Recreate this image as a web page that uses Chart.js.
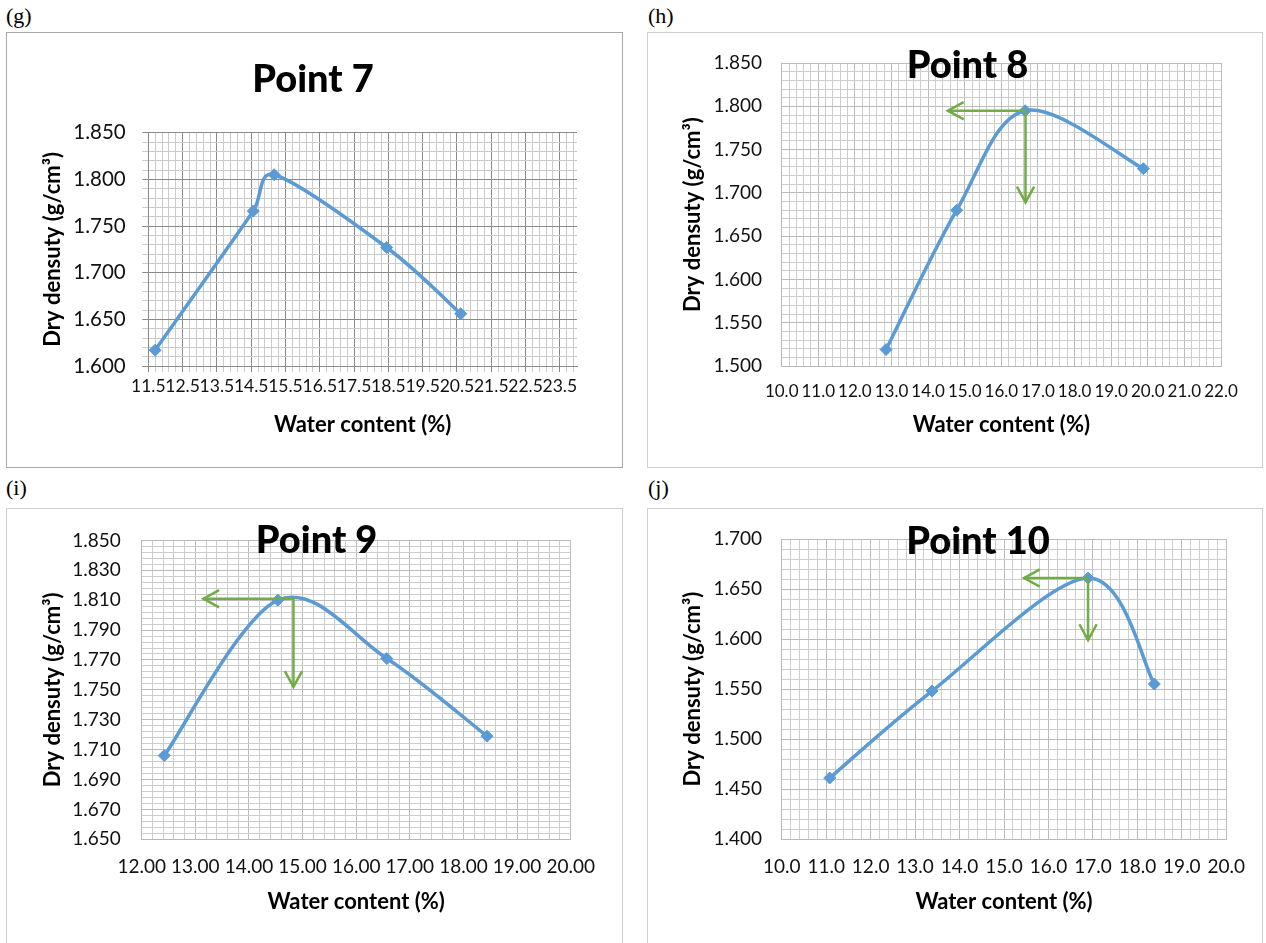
<!DOCTYPE html>
<html>
<head>
<meta charset="utf-8">
<title>Compaction curves – Points 7 to 10</title>
<script src="https://cdn.jsdelivr.net/npm/chart.js@4/dist/chart.umd.min.js"></script>
<style>
  html, body { margin: 0; padding: 0; background: #fff; }
  body { width: 1266px; height: 943px; position: relative; overflow: hidden; }
  .tag { position: absolute; font-family: 'Liberation Serif', 'Times New Roman', serif;
         font-size: 22px; line-height: 22px; color: #000; }
  .box { position: absolute; box-sizing: border-box; }
  canvas { position: absolute; }
</style>
</head>
<body>
<div class="tag" style="left:6px; top:5px;">(g)</div>
<div class="tag" style="left:648px; top:5px;">(h)</div>
<div class="tag" style="left:6px; top:477px;">(i)</div>
<div class="tag" style="left:648px; top:477px;">(j)</div>

<div class="box" style="left:6px; top:32px; width:617px; height:436px; border:1.5px solid #a8a8a8;"></div>
<div class="box" style="left:647px; top:32px; width:616px; height:436px; border:1.5px solid #d0d0d0;"></div>
<div class="box" style="left:6px; top:508px; width:617px; height:450px; border:1.5px solid #d0d0d0;"></div>
<div class="box" style="left:647px; top:508px; width:616px; height:450px; border:1.5px solid #d0d0d0;"></div>

<canvas id="p7"  width="616" height="435" style="left:6px; top:32px;"></canvas>
<canvas id="p8"  width="615" height="435" style="left:647px; top:32px;"></canvas>
<canvas id="p9"  width="616" height="435" style="left:6px; top:508px;"></canvas>
<canvas id="p10" width="615" height="435" style="left:647px; top:508px;"></canvas>

<script>
// ---------- Point 7 ----------
const p7Water   = [11.70, 14.56, 15.17, 18.45, 20.61];
const p7Density = [1.617, 1.766, 1.805, 1.727, 1.656];
const p7XLabels = ['11.5','12.5','13.5','14.5','15.5','16.5','17.5','18.5','19.5','20.5','21.5','22.5','23.5'];
const p7YLabels = ['1.600','1.650','1.700','1.750','1.800','1.850'];
const p7XRange  = [11.5, 24.0];

// ---------- Point 8 ----------
const p8Water   = [12.85, 14.78, 16.65, 19.88];
const p8Density = [1.519, 1.680, 1.795, 1.728];
const p8XLabels = ['10.0','11.0','12.0','13.0','14.0','15.0','16.0','17.0','18.0','19.0','20.0','21.0','22.0'];
const p8YLabels = ['1.500','1.550','1.600','1.650','1.700','1.750','1.800','1.850'];
const p8ArrowLeft = [[16.66, 1.795], [14.54, 1.795]];
const p8ArrowDown = [[16.66, 1.795], [16.66, 1.689]];

// ---------- Point 9 ----------
const p9Water   = [12.42, 14.54, 16.57, 18.44];
const p9Density = [1.706, 1.810, 1.771, 1.719];
const p9XLabels = ['12.00','13.00','14.00','15.00','16.00','17.00','18.00','19.00','20.00'];
const p9YLabels = ['1.650','1.670','1.690','1.710','1.730','1.750','1.770','1.790','1.810','1.830','1.850'];
const p9ArrowLeft = [[14.83, 1.811], [13.15, 1.811]];
const p9ArrowDown = [[14.83, 1.811], [14.83, 1.752]];

// ---------- Point 10 ----------
const p10Water   = [11.08, 13.38, 16.89, 18.38];
const p10Density = [1.461, 1.548, 1.661, 1.555];
const p10XLabels = ['10.0','11.0','12.0','13.0','14.0','15.0','16.0','17.0','18.0','19.0','20.0'];
const p10YLabels = ['1.400','1.450','1.500','1.550','1.600','1.650','1.700'];
const p10ArrowLeft = [[16.89, 1.661], [15.45, 1.661]];
const p10ArrowDown = [[16.89, 1.661], [16.89, 1.599]];

// ---------- plugins ----------
// Smoothed curve: tangent (next - prev) / 6 at each point, with each handle
// limited to 40 % of the segment it belongs to so short segments stay tidy.
const smoothCurve = {
  id: 'smoothCurve',
  beforeDatasetDraw(chart, args) {
    const ds = chart.data.datasets[args.index];
    if (!ds.smooth) return;
    const meta = args.meta;
    meta.dataset.updateControlPoints(chart.chartArea, meta.iScale.axis);
    const pts = meta.data, n = pts.length;
    const dist = (a, b) => Math.hypot(b.x - a.x, b.y - a.y);
    for (let i = 0; i < n; i++) {
      const p = pts[i];
      const prev = pts[Math.max(i - 1, 0)];
      const next = pts[Math.min(i + 1, n - 1)];
      const dx = (next.x - prev.x) / 6, dy = (next.y - prev.y) / 6;
      const h = Math.hypot(dx, dy) || 1;
      const kIn  = i > 0     ? Math.min(1, 0.4 * dist(prev, p) / h) : 0;
      const kOut = i < n - 1 ? Math.min(1, 0.4 * dist(p, next) / h) : 0;
      p.cp1x = p.x - dx * kIn;  p.cp1y = p.y - dy * kIn;
      p.cp2x = p.x + dx * kOut; p.cp2y = p.y + dy * kOut;
    }
  }
};

// Open "V" arrowhead at the last point of a guide line.
const arrowHeads = {
  id: 'arrowHeads',
  afterDatasetDraw(chart, args) {
    const ds = chart.data.datasets[args.index];
    if (!ds.arrowHead) return;
    const pts = args.meta.data;
    const a = pts[pts.length - 2], b = pts[pts.length - 1];
    const ang = Math.atan2(b.y - a.y, b.x - a.x);
    const len = 18, spread = 0.5;
    const ctx = chart.ctx;
    ctx.save();
    ctx.strokeStyle = ds.borderColor;
    ctx.lineWidth = ds.borderWidth;
    ctx.lineJoin = 'miter';
    ctx.beginPath();
    ctx.moveTo(b.x - len * Math.cos(ang - spread), b.y - len * Math.sin(ang - spread));
    ctx.lineTo(b.x, b.y);
    ctx.lineTo(b.x - len * Math.cos(ang + spread), b.y - len * Math.sin(ang + spread));
    ctx.stroke();
    ctx.restore();
  }
};

// Chart heading placed freely inside the chart box.
const panelTitle = {
  id: 'panelTitle',
  afterDraw(chart, args, opts) {
    if (!opts || !opts.text) return;
    const ctx = chart.ctx;
    ctx.save();
    ctx.font = '900 ' + opts.size + 'px Lato, "Open Sans", sans-serif';
    ctx.fillStyle = '#000';
    ctx.textAlign = 'center';
    ctx.textBaseline = 'alphabetic';
    ctx.fillText(opts.text, opts.x, opts.y);
    ctx.restore();
  }
};

Chart.register(smoothCurve, arrowHeads, panelTitle);

const BLUE = '#5B9BD5';
const GREEN = '#70AD47';
const FONT = 'Lato, "Open Sans", sans-serif';

function toPoints(xs, ys) { return xs.map((x, i) => ({ x: x, y: ys[i] })); }
function pairPoints(pairs) { return pairs.map(p => ({ x: p[0], y: p[1] })); }

// Axis helper: labelled major ticks with 5 unlabelled minor divisions between them.
function axis(labels, range, o) {
  const majors = labels.map(Number);
  const step = (majors[1] - majors[0]) / 5;
  const lo = range ? range[0] : majors[0];
  const hi = range ? range[1] : majors[majors.length - 1];
  const labelFor = v => {
    const s = labels.find(t => Math.abs(Number(t) - v) < step / 100);
    return s === undefined ? '' : s;
  };
  const isMajor = v => labelFor(v) !== '';
  return {
    type: 'linear',
    min: lo, max: hi,
    afterBuildTicks(scale) {
      const ticks = [];
      for (let i = 0; ; i++) {
        const v = +(majors[0] + i * step).toFixed(6);
        if (v > hi + step / 100) break;
        ticks.push({ value: v });
      }
      scale.ticks = ticks;
    },
    afterFit(scale) {
      if (o.vertical) scale.width = o.size; else scale.height = o.size;
    },
    ticks: {
      autoSkip: false, maxRotation: 0, minRotation: 0,
      padding: o.tickPad,
      color: '#111',
      font: { family: FONT, size: o.fontSize },
      callback: v => labelFor(v)
    },
    grid: {
      color: c => (c.tick && isMajor(c.tick.value)) ? o.majorGrid : o.minorGrid,
      lineWidth: 1,
      drawTicks: !!o.crossTicks,
      tickLength: 6,
      tickColor: c => (c.tick && isMajor(c.tick.value)) ? o.majorGrid : o.minorGrid
    },
    border: { display: true, color: o.borderColor, width: 1 },
    title: {
      display: true,
      text: o.title,
      color: '#000',
      font: { family: FONT, size: 22, weight: 'bold' },
      padding: o.vertical ? { top: o.titlePad, bottom: 0 } : { top: 0, bottom: o.titlePad }
    }
  };
}

function buildPanel(id, p) {
  const datasets = [];
  (p.arrows || []).forEach(a => datasets.push({
    data: pairPoints(a), borderColor: GREEN, borderWidth: 2.5, pointRadius: 0,
    tension: 0, arrowHead: true, order: 0
  }));
  datasets.push({
    data: toPoints(p.xs, p.ys),
    borderColor: BLUE, borderWidth: 3.5,
    pointStyle: 'rectRot', pointRadius: 6, pointBorderWidth: 1,
    pointBackgroundColor: BLUE, pointBorderColor: BLUE,
    tension: 0.4, smooth: true, order: 1
  });
  const L = p.layout;
  new Chart(document.getElementById(id), {
    type: 'line',
    data: { datasets },
    options: {
      responsive: false, animation: false, devicePixelRatio: 1,
      layout: { padding: { left: 0, top: L.area[1], right: L.w - L.area[2], bottom: 0 } },
      plugins: {
        legend: { display: false }, tooltip: { enabled: false },
        panelTitle: { text: p.title, size: 38, x: L.titleX, y: L.titleY }
      },
      scales: {
        x: axis(p.xLabels, p.xRange, {
          vertical: false, size: L.h - L.area[3], tickPad: L.xTickPad, fontSize: p.xFont,
          majorGrid: p.majorGrid, minorGrid: p.minorGrid, borderColor: p.axisColor,
          crossTicks: p.crossTicks, title: 'Water content (%)', titlePad: L.xTitlePad
        }),
        y: axis(p.yLabels, null, {
          vertical: true, size: L.area[0], tickPad: L.yTickPad, fontSize: p.yFont,
          majorGrid: p.majorGrid, minorGrid: p.minorGrid, borderColor: p.axisColor,
          crossTicks: p.crossTicks, title: 'Dry densuty (g/cm³)', titlePad: L.yTitlePad
        })
      }
    }
  });
}

buildPanel('p7', {
  title: 'Point 7', xs: p7Water, ys: p7Density, xLabels: p7XLabels, yLabels: p7YLabels, xRange: p7XRange,
  xFont: 17.5, yFont: 20.5, majorGrid: '#8a8a8a', minorGrid: '#cbcbcb', axisColor: '#8a8a8a', crossTicks: true,
  layout: { w: 616, h: 435, area: [142.3, 100.7, 571, 334], titleX: 307, titleY: 59.7,
            xTickPad: 4, yTickPad: 16.6, xTitlePad: 28.8, yTitlePad: 33.8 }
});
buildPanel('p8', {
  title: 'Point 8', xs: p8Water, ys: p8Density, xLabels: p8XLabels, yLabels: p8YLabels, xRange: null,
  arrows: [p8ArrowLeft, p8ArrowDown],
  xFont: 17, yFont: 19, majorGrid: '#bcbcbc', minorGrid: '#cdcdcd', axisColor: '#b8b8b8', crossTicks: false,
  layout: { w: 615, h: 435, area: [134.7, 26.3, 574, 334], titleX: 320.5, titleY: 46.3,
            xTickPad: 15.5, yTickPad: 19.7, xTitlePad: 28.8, yTitlePad: 32.8 }
});
buildPanel('p9', {
  title: 'Point 9', xs: p9Water, ys: p9Density, xLabels: p9XLabels, yLabels: p9YLabels, xRange: null,
  arrows: [p9ArrowLeft, p9ArrowDown],
  xFont: 19, yFont: 19, majorGrid: '#bcbcbc', minorGrid: '#cdcdcd', axisColor: '#b8b8b8', crossTicks: false,
  layout: { w: 616, h: 435, area: [135.7, 26, 564.7, 331.3], titleX: 310.6, titleY: 45.3,
            xTickPad: 16.6, yTickPad: 21, xTitlePad: 28.1, yTitlePad: 34.2 }
});
buildPanel('p10', {
  title: 'Point 10', xs: p10Water, ys: p10Density, xLabels: p10XLabels, yLabels: p10YLabels, xRange: null,
  arrows: [p10ArrowLeft, p10ArrowDown],
  xFont: 19, yFont: 19, majorGrid: '#bcbcbc', minorGrid: '#cdcdcd', axisColor: '#b8b8b8', crossTicks: false,
  layout: { w: 615, h: 435, area: [134.7, 26.3, 583, 331], titleX: 331, titleY: 46.3,
            xTickPad: 16.9, yTickPad: 19.7, xTitlePad: 28.1, yTitlePad: 32.8 }
});
</script>
</body>
</html>
